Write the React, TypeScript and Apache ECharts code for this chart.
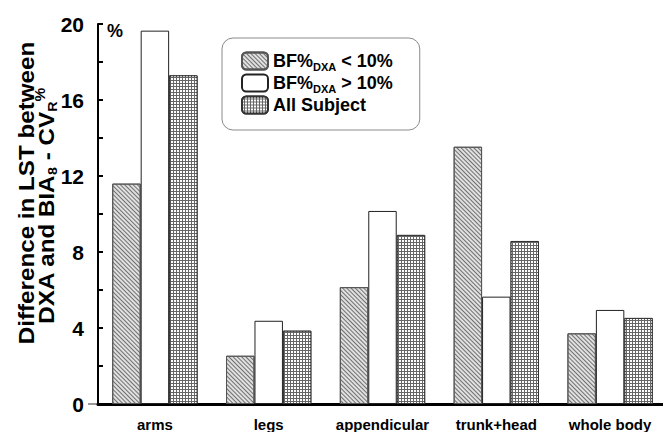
import React, { useEffect, useRef } from "react";
import * as echarts from "echarts";

const categories = ["arms", "legs", "appendicular", "trunk+head", "whole body"];
const seriesNames = ["lt10", "gt10", "all"];
const lt10Values = [11.6, 2.54, 6.15, 13.54, 3.72];
const gt10Values = [19.65, 4.38, 10.16, 5.65, 4.95];
const allValues = [17.3, 3.86, 8.9, 8.58, 4.53];
const legendLabels: Record<string, string> = {
  lt10: "BF%{sub|DXA} < 10%",
  gt10: "BF%{sub|DXA} > 10%",
  all: "All Subject",
};
const yTitleLine1 = "Difference in LST between";
const yTitleLine2 = "DXA and BIA{sub|8} - CV{sub|R}{sup|%}";

const FONT = "'Liberation Sans', Arial, Helvetica, sans-serif";

export default function App() {
  const ref = useRef<HTMLDivElement>(null);
  useEffect(() => {
    if (!ref.current) return;
    const chart = echarts.init(ref.current, null, { renderer: "svg" });
    const hatch = {
      symbol: "rect",
      symbolSize: 1,
      dashArrayX: [1, 0],
      dashArrayY: [1, 2],
      rotation: Math.PI / 4,
      color: "#707070",
      backgroundColor: "#f2f2f2",
    };
    const grid = {
      symbol: "rect",
      symbolSize: 1,
      dashArrayX: [2, 1],
      dashArrayY: [2, 1],
      color: "#ffffff",
      backgroundColor: "#666",
    };
    const mkSeries = (name: string, data: number[], style: any) => ({
      name,
      type: "bar",
      data,
      barGap: "0%",
      barCategoryGap: "25%",
      itemStyle: style,
      emphasis: { disabled: true },
    });
    chart.setOption({
      animation: false,
      textStyle: { fontFamily: FONT },
      grid: {
        left: 98,
        top: 24,
        width: 569,
        height: 380,
        containLabel: false,
        outerBoundsMode: "none",
      },
      legend: {
        orient: "vertical",
        left: 222,
        top: 38,
        padding: [12, 27, 14, 19],
        itemGap: 0,
        itemWidth: 26,
        itemHeight: 17,
        borderColor: "#8a8a8a",
        borderWidth: 1,
        borderRadius: 11,
        data: seriesNames,
        formatter: (n: string) => legendLabels[n],
        textStyle: {
          fontFamily: FONT,
          fontSize: 18,
          fontWeight: "bold",
          color: "#000",
          lineHeight: 22,
          rich: {
            sub: {
              fontFamily: FONT,
              fontSize: 11,
              fontWeight: "bold",
              color: "#000",
              lineHeight: 11,
              verticalAlign: "bottom",
            },
          },
        },
      },
      xAxis: {
        type: "category",
        data: categories,
        axisLine: { lineStyle: { color: "#000", width: 3 } },
        axisTick: { show: false },
        axisLabel: {
          interval: 0,
          margin: 13,
          fontFamily: FONT,
          fontSize: 15,
          fontWeight: "bold",
          color: "#000",
        },
      },
      yAxis: {
        type: "value",
        min: 0,
        max: 20,
        interval: 4,
        axisLine: { show: true, lineStyle: { color: "#000", width: 2 } },
        axisTick: { show: true, inside: true, length: 5, lineStyle: { color: "#000", width: 2 } },
        minorTick: { show: true, splitNumber: 2, length: 5, lineStyle: { color: "#000", width: 2 } },
        splitLine: { show: false },
        axisLabel: {
          margin: 14,
          fontFamily: FONT,
          fontSize: 21,
          fontWeight: "bold",
          color: "#000",
        },
      },
      series: [
        mkSeries("lt10", lt10Values, { color: "#e0e0e0", decal: hatch, borderColor: "#555", borderWidth: 1 }),
        mkSeries("gt10", gt10Values, { color: "#ffffff", borderColor: "#222", borderWidth: 1 }),
        mkSeries("all", allValues, { color: "#666", decal: grid, borderColor: "#333", borderWidth: 1 }),
      ],
      graphic: [
        {
          type: "text",
          left: 107,
          top: 22,
          style: { text: "%", font: `bold 18px ${FONT}`, fill: "#000" },
        },
        {
          type: "line",
          shape: { x1: 88, y1: 404, x2: 99, y2: 404 },
          style: { stroke: "#333", lineWidth: 1 },
        },
        {
          type: "text",
          x: 26,
          y: 193,
          rotation: Math.PI / 2,
          scaleX: 1.1,
          style: {
            text: yTitleLine1,
            font: `bold 22px ${FONT}`,
            fill: "#000",
            align: "center",
            verticalAlign: "middle",
          },
        },
        {
          type: "text",
          x: 46,
          y: 206,
          rotation: Math.PI / 2,
          scaleX: 1.1,
          style: {
            text: yTitleLine2,
            font: `bold 22px ${FONT}`,
            fill: "#000",
            align: "center",
            verticalAlign: "middle",
            lineHeight: 26,
            rich: {
              sub: {
                font: `bold 13px ${FONT}`,
                fill: "#000",
                lineHeight: 13,
                verticalAlign: "bottom",
              },
              sup: {
                font: `bold 14px ${FONT}`,
                fill: "#000",
                lineHeight: 14,
                verticalAlign: "top",
              },
            },
          },
        },
      ],
    });
    return () => chart.dispose();
  }, []);
  return (
    <div
      ref={ref}
      style={{ position: "fixed", left: 0, top: 0, width: 663, height: 432, background: "#fff" }}
    />
  );
}
